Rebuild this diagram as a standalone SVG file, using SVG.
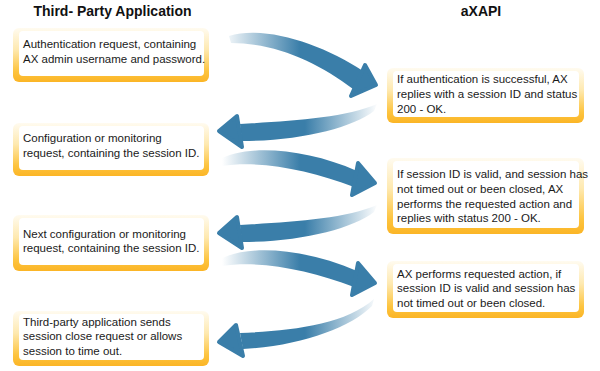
<svg xmlns="http://www.w3.org/2000/svg" width="600" height="371" viewBox="0 0 600 371">
<defs>
<linearGradient id="boxg" x1="0" y1="0" x2="0" y2="1">
<stop offset="0" stop-color="#fffbf0"/>
<stop offset="0.4" stop-color="#fee9b0"/>
<stop offset="0.8" stop-color="#fdc43f"/>
<stop offset="1" stop-color="#fbb526"/>
</linearGradient>
<linearGradient id="fadeR" gradientUnits="userSpaceOnUse" x1="222" y1="0" x2="300" y2="0">
<stop offset="0" stop-color="#3a7ea9" stop-opacity="0"/>
<stop offset="1" stop-color="#3a7ea9" stop-opacity="1"/>
</linearGradient>
<linearGradient id="fadeL" gradientUnits="userSpaceOnUse" x1="378" y1="0" x2="305" y2="0">
<stop offset="0" stop-color="#3a7ea9" stop-opacity="0"/>
<stop offset="1" stop-color="#3a7ea9" stop-opacity="1"/>
</linearGradient>
</defs>
<style>
.box{fill:url(#boxg)}
.inner{fill:#fff}
.t{font-family:"Liberation Sans",Arial,sans-serif;font-size:11.5px;fill:#1a1a1a}
.h{font-family:"Liberation Sans",Arial,sans-serif;font-size:14px;font-weight:bold;fill:#111;text-anchor:middle}
.head{fill:#3a7ea9;stroke:#3a7ea9;stroke-width:4;stroke-linejoin:round}
.sr{fill:url(#fadeR)}
.sl{fill:url(#fadeL)}
</style>
<rect width="600" height="371" fill="#fff"/>
<text class="h" x="112.5" y="16">Third- Party Application</text>
<text class="h" x="481" y="16">aXAPI</text>

<g id="connectors">
<g id="arrow1">
<path class="sr" d="M229 36 C265 25 322 44 363 71 L353 89 C318 62 275 43 231 43 Z"/>
<polygon class="head" points="365,65 376,85 351,96"/>
</g>
<g id="arrow2">
<path class="sl" d="M240 124 C290 121 345 118 377 104 L374 111 C352 128 300 141 242 141 Z"/>
<polygon class="head" points="219,131 237,116 242,147"/>
</g>
<g id="arrow3">
<path class="sr" d="M219 160 C245 144 305 148 357 171 L354 187 C310 170 260 160 222 166 Z"/>
<polygon class="head" points="358,163 375,183 352,195"/>
</g>
<g id="arrow4" transform="translate(0,101)">
<path class="sl" d="M240 124 C290 121 345 118 377 104 L374 111 C352 128 300 141 242 141 Z"/>
<polygon class="head" points="219,132 237,116 242,147"/>
</g>
<g id="arrow5" transform="translate(0,100)">
<path class="sr" d="M219 160 C245 144 305 148 357 171 L354 187 C310 170 260 160 222 166 Z"/>
<polygon class="head" points="358,163 375,183 352,195"/>
</g>
<g id="arrow6">
<path class="sl" d="M240 333 C290 331 345 325 374 299 L372 306 C350 328 300 346 243 349 Z"/>
<polygon class="head" points="219,342 236,325 243,356"/>
</g>
</g>

<g id="node-l1">
<rect class="box" x="13" y="28" width="196" height="54" rx="6"/>
<rect class="inner" x="19" y="31" width="185" height="45" rx="4"/>
<text class="t" x="23" y="48">Authentication request, containing</text>
<text class="t" x="23" y="63">AX admin username and password.</text>
</g>
<g id="node-r1">
<rect class="box" x="387" y="68" width="197" height="55" rx="6"/>
<rect class="inner" x="393" y="71" width="186" height="46" rx="4"/>
<text class="t" x="397" y="83">If authentication is successful, AX</text>
<text class="t" x="397" y="98">replies with a session ID and status</text>
<text class="t" x="397" y="113">200 - OK.</text>
</g>
<g id="node-l2">
<rect class="box" x="13" y="123" width="196" height="53" rx="6"/>
<rect class="inner" x="19" y="126" width="185" height="44" rx="4"/>
<text class="t" x="23" y="142">Configuration or monitoring</text>
<text class="t" x="23" y="157">request, containing the session ID.</text>
</g>
<g id="node-r2">
<rect class="box" x="387" y="158" width="197" height="76" rx="6"/>
<rect class="inner" x="393" y="161" width="186" height="67" rx="4"/>
<text class="t" x="397" y="178">If session ID is valid, and session has</text>
<text class="t" x="397" y="193">not timed out or been closed, AX</text>
<text class="t" x="397" y="208">performs the requested action and</text>
<text class="t" x="397" y="222">replies with status 200 - OK.</text>
</g>
<g id="node-l3">
<rect class="box" x="13" y="215" width="196" height="56" rx="6"/>
<rect class="inner" x="19" y="218" width="185" height="47" rx="4"/>
<text class="t" x="23" y="238">Next configuration or monitoring</text>
<text class="t" x="23" y="252">request, containing the session ID.</text>
</g>
<g id="node-r3">
<rect class="box" x="387" y="261" width="197" height="57" rx="6"/>
<rect class="inner" x="393" y="264" width="186" height="48" rx="4"/>
<text class="t" x="397" y="278">AX performs requested action, if</text>
<text class="t" x="397" y="292">session ID is valid and session has</text>
<text class="t" x="397" y="307">not timed out or been closed.</text>
</g>
<g id="node-l4">
<rect class="box" x="13" y="311" width="196" height="55" rx="6"/>
<rect class="inner" x="19" y="314" width="185" height="46" rx="4"/>
<text class="t" x="23" y="326">Third-party application sends</text>
<text class="t" x="23" y="340">session close request or allows</text>
<text class="t" x="23" y="355">session to time out.</text>
</g>
</svg>
